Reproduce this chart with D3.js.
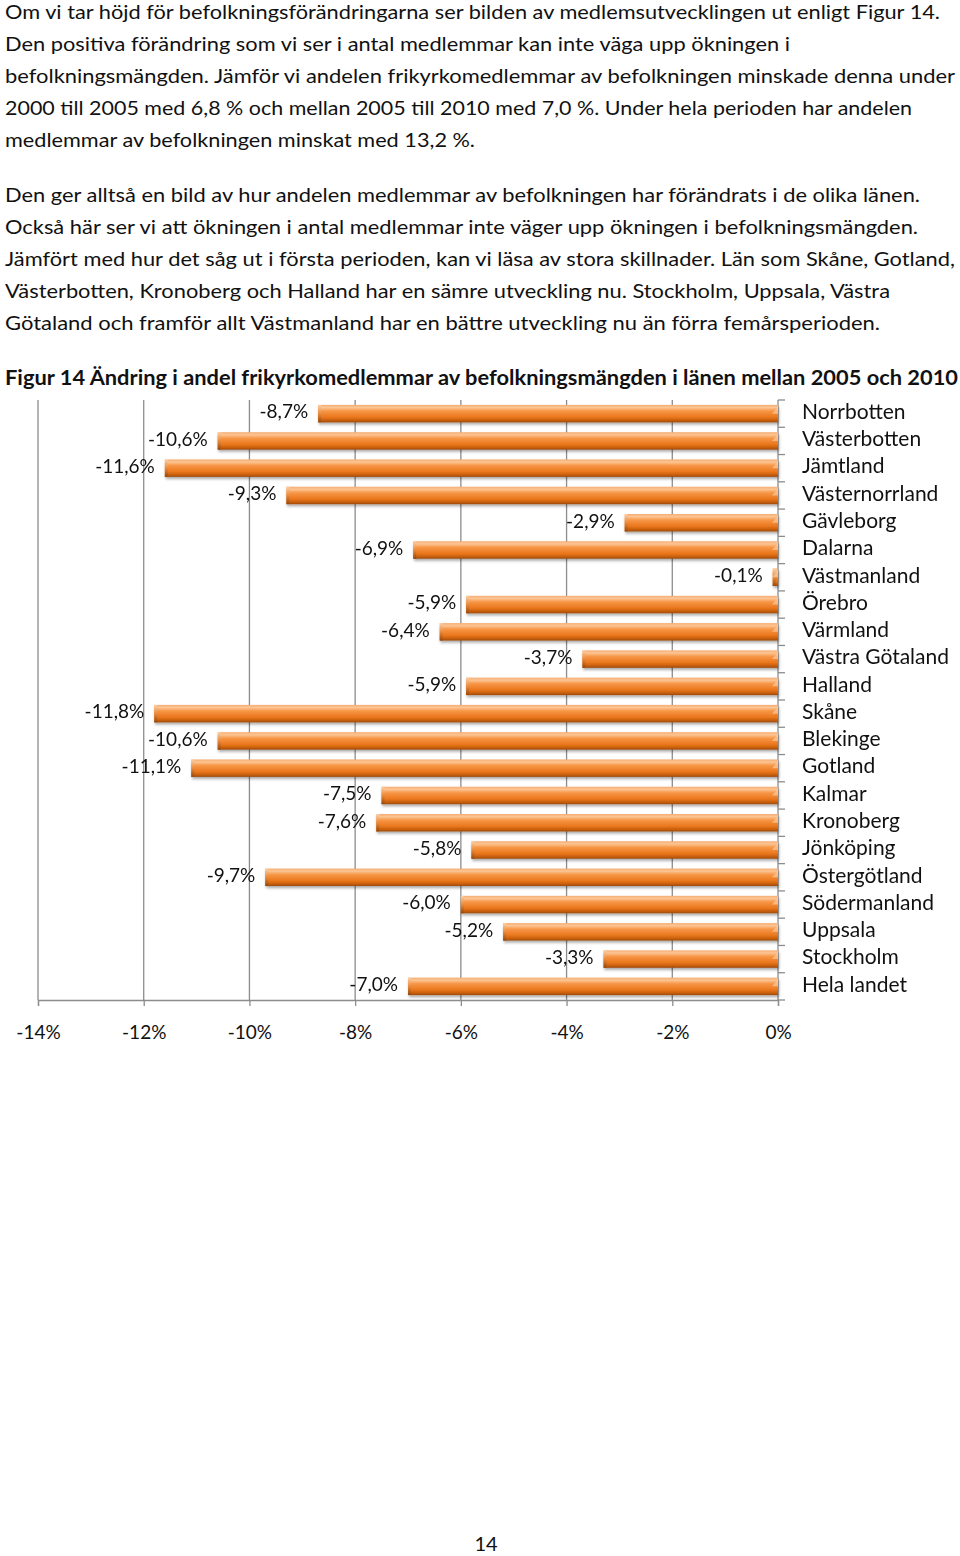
<!DOCTYPE html>
<html><head><meta charset="utf-8">
<script src="https://cdn.jsdelivr.net/npm/d3@7/dist/d3.min.js"></script>
<style>
html,body{margin:0;padding:0;background:#fff;}
svg{display:block;font-family:Lato,"Open Sans","Noto Sans",sans-serif;}
</style></head><body>
<svg id="page" width="960" height="1556"></svg>
<script>
const categories = ["Norrbotten","Västerbotten","Jämtland","Västernorrland","Gävleborg","Dalarna","Västmanland","Örebro","Värmland","Västra Götaland","Halland","Skåne","Blekinge","Gotland","Kalmar","Kronoberg","Jönköping","Östergötland","Södermanland","Uppsala","Stockholm","Hela landet"];
const values = [-8.7,-10.6,-11.6,-9.3,-2.9,-6.9,-0.1,-5.9,-6.4,-3.7,-5.9,-11.8,-10.6,-11.1,-7.5,-7.6,-5.8,-9.7,-6.0,-5.2,-3.3,-7.0];
const xTicks = [-14,-12,-10,-8,-6,-4,-2,0];
const para1 = [
 "Om vi tar höjd för befolkningsförändringarna ser bilden av medlemsutvecklingen ut enligt Figur 14.",
 "Den positiva förändring som vi ser i antal medlemmar kan inte väga upp ökningen i",
 "befolkningsmängden. Jämför vi andelen frikyrkomedlemmar av befolkningen minskade denna under",
 "2000 till 2005 med 6,8 % och mellan 2005 till 2010 med 7,0 %. Under hela perioden har andelen",
 "medlemmar av befolkningen minskat med 13,2 %."];
const para2 = [
 "Den ger alltså en bild av hur andelen medlemmar av befolkningen har förändrats i de olika länen.",
 "Också här ser vi att ökningen i antal medlemmar inte väger upp ökningen i befolkningsmängden.",
 "Jämfört med hur det såg ut i första perioden, kan vi läsa av stora skillnader. Län som Skåne, Gotland,",
 "Västerbotten, Kronoberg och Halland har en sämre utveckling nu. Stockholm, Uppsala, Västra",
 "Götaland och framför allt Västmanland har en bättre utveckling nu än förra femårsperioden."];
const title = "Figur 14 Ändring i andel frikyrkomedlemmar av befolkningsmängden i länen mellan 2005 och 2010";
const pageNumber = "14";

// text layout widths (right end of each line in reference)
const p1Ends = [940,790,955,912,475];
const p2Ends = [920,918,955,890,880];

const svg = d3.select("#page");

function textLines(lines, ends, y0, dy){
  lines.forEach((t,i)=>{
    const el = svg.append("text").attr("x",5).attr("y",y0+i*dy)
      .attr("font-size",20).attr("fill","#111").attr("dominant-baseline","middle").text(t);
    const w = el.node().getComputedTextLength();
    const target = ends[i]-5;
    if (Math.abs(w-target)>2) el.attr("textLength",target).attr("lengthAdjust","spacingAndGlyphs");
  });
}
textLines(para1,p1Ends,14,32);
textLines(para2,p2Ends,197,32);

const tEl = svg.append("text").attr("x",5).attr("y",380).attr("font-size",20).attr("font-weight","bold")
  .attr("fill","#111").attr("dominant-baseline","middle").text(title);
tEl.attr("textLength",953).attr("lengthAdjust","spacingAndGlyphs");

svg.append("text").attr("x",486).attr("y",1546).attr("font-size",20).attr("text-anchor","middle")
  .attr("dominant-baseline","middle").attr("fill","#111").text(pageNumber);

// chart
const x = d3.scaleLinear().domain([-14,0]).range([38,778]);
const y = d3.scaleBand().domain(categories).range([400,1000]).paddingInner(0.36).paddingOuter(0.18);

const defs = svg.append("defs");
const g1 = defs.append("linearGradient").attr("id","barGrad").attr("x1",0).attr("y1",0).attr("x2",0).attr("y2",1);
[[0,"#f6ad72"],[0.15,"#fcc594"],[0.35,"#f79646"],[0.7,"#ea771d"],[0.88,"#c85f0c"],[1,"#9c4a0a"]]
  .forEach(s=>g1.append("stop").attr("offset",s[0]).attr("stop-color",s[1]));
const g2 = defs.append("linearGradient").attr("id","capGrad").attr("x1",0).attr("y1",0).attr("x2",0).attr("y2",1);
[[0,"#fcd0a8"],[0.5,"#e98a3c"],[1,"#9a4708"]].forEach(s=>g2.append("stop").attr("offset",s[0]).attr("stop-color",s[1]));
const flt = defs.append("filter").attr("id","shadow").attr("x","-5%").attr("y","-30%").attr("width","110%").attr("height","180%");
flt.append("feGaussianBlur").attr("in","SourceAlpha").attr("stdDeviation",1.5);
flt.append("feOffset").attr("dx",1).attr("dy",2).attr("result","ob");
flt.append("feComponentTransfer").append("feFuncA").attr("type","linear").attr("slope",0.35);
const fm = flt.append("feMerge"); fm.append("feMergeNode"); fm.append("feMergeNode").attr("in","SourceGraphic");

// gridlines
svg.append("g").selectAll("line").data(xTicks.filter(d=>d!==0)).join("line")
  .attr("x1",d=>x(d)).attr("x2",d=>x(d)).attr("y1",400).attr("y2",1000)
  .attr("stroke","#8c8c8c").attr("stroke-width",1.3);

// x axis
const xAxis = d3.axisBottom(x).tickValues(xTicks).tickSize(6).tickPadding(20).tickFormat(d=>(d<0?"-":"")+Math.abs(d)+"%");
const gx = svg.append("g").attr("transform","translate(0,1000)").call(xAxis);
gx.select(".domain").attr("stroke","#8c8c8c").attr("stroke-width",1.3);
gx.selectAll(".tick line").attr("stroke","#8c8c8c").attr("stroke-width",1.3);
gx.selectAll("text").attr("font-size",19).attr("fill","#111").attr("font-family","Lato,'Open Sans',sans-serif");

// category axis at 0
svg.append("line").attr("x1",x(0)).attr("x2",x(0)).attr("y1",400).attr("y2",1000).attr("stroke","#8c8c8c").attr("stroke-width",1.3);
const step = y.step();
svg.append("g").selectAll("line").data(d3.range(categories.length+1)).join("line")
  .attr("x1",x(0)).attr("x2",x(0)+7).attr("y1",i=>400+i*step).attr("y2",i=>400+i*step)
  .attr("stroke","#8c8c8c").attr("stroke-width",1.3);

// bars
const bars = svg.append("g").attr("filter","url(#shadow)");
const bg = bars.selectAll("g").data(categories).join("g");
bg.append("rect").attr("x",(d,i)=>x(values[i])).attr("y",d=>y(d))
  .attr("width",(d,i)=>x(0)-x(values[i])).attr("height",y.bandwidth()).attr("fill","url(#barGrad)");
bg.append("rect").attr("x",(d,i)=>x(values[i])).attr("y",d=>y(d))
  .attr("width",(d,i)=>Math.min(3,x(0)-x(values[i]))).attr("height",y.bandwidth()).attr("fill","url(#capGrad)");
bg.append("path").attr("d",(d,i)=>{
    const xr=x(0), yt=y(d), h=y.bandwidth();
    return `M${xr-6},${yt+h*0.5} L${xr},${yt+2} L${xr},${yt+h*0.5} Z`;
  }).attr("fill","#fcc99c").attr("opacity",0.7);

// value labels
svg.append("g").selectAll("text").data(categories).join("text")
  .attr("x",(d,i)=>x(values[i])-10).attr("y",d=>y(d)+y.bandwidth()/2)
  .attr("text-anchor","end").attr("dominant-baseline","middle").attr("font-size",19).attr("fill","#111")
  .text((d,i)=>values[i].toFixed(1).replace(".",",")+"%");

// category labels
svg.append("g").selectAll("text").data(categories).join("text")
  .attr("x",802).attr("y",d=>y(d)+y.bandwidth()/2)
  .attr("dominant-baseline","middle").attr("font-size",21).attr("fill","#111").text(d=>d);
</script>
</body></html>
